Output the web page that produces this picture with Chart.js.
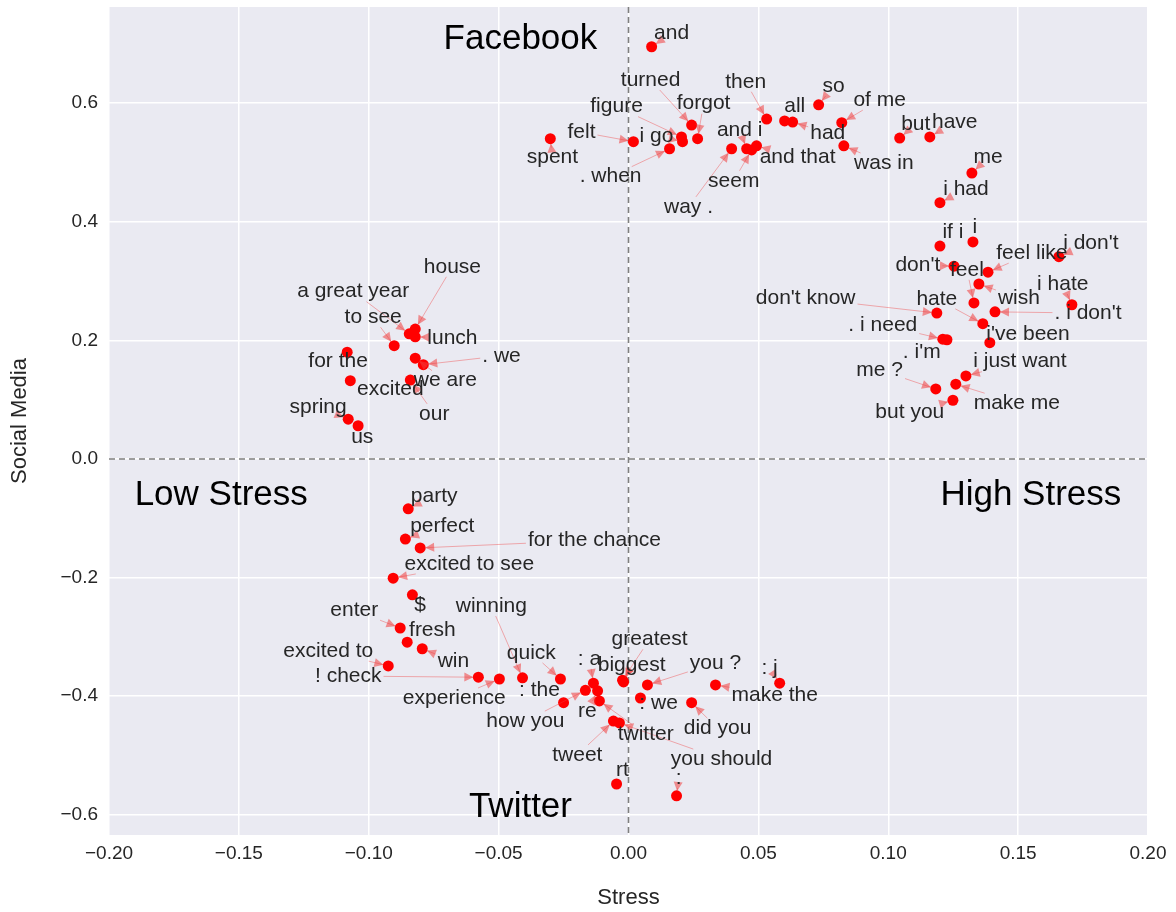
<!DOCTYPE html>
<html lang="en">
<head>
  <meta charset="UTF-8" />
  <title>Stress vs Social Media</title>
  <script src="https://cdn.jsdelivr.net/npm/chart.js"></script>
  <style>
    body { margin: 0; background: #fff; }
    #wrap { width: 1176px; height: 912px; }
  </style>
</head>
<body>
  <div id="wrap"><canvas id="wordChart"></canvas></div>

  <script>
    // phrases and their position (stress, social media)
    const words = [
      // facebook
      "and", "spent", "felt", "figure", "i go", "turned", "forgot", ". when", "way .", "and i", "seem",
      "and that", "then", "all", "had", "so", "of me", "was in", "but", "have", "me", "i had",
      // high stress
      "if i", "i", "i don't", "don't", "feel like", "feel", "wish", "hate", "don't know", "i hate",
      ". i don't", ". i need", ". i'm", "i've been", "i just want", "make me", "me ?", "but you",
      // low stress
      "house", "a great year", "to see", "lunch", "for the", ". we", "we are", "excited", "our", "spring", "us",
      // twitter
      "party", "perfect", "for the chance", "excited to see", "$", "enter", "fresh", "win", "excited to",
      "! check", "experience", "winning", "quick", ": a", ": the", "how you", "re", "twitter", "tweet",
      "you should", "greatest", "biggest", "you ?", ": we", "did you", "make the", ": j", "rt", ":"
    ];
    const stress = [
      0.0089, -0.0301, 0.0019, 0.0204, 0.0208, 0.0243, 0.0266, 0.0158, 0.0397, 0.0455, 0.0474,
      0.0493, 0.0532, 0.0601, 0.0632, 0.0732, 0.0821, 0.0829, 0.1044, 0.1160, 0.1322, 0.1199,
      0.1199, 0.1326, 0.1657, 0.1253, 0.1384, 0.1330, 0.1349, 0.1364, 0.1187, 0.1707,
      0.1411, 0.1210, 0.1226, 0.1391, 0.1299, 0.1260, 0.1183, 0.1249,
      -0.0821, -0.0844, -0.0902, -0.0821, -0.1083, -0.0790, -0.0821, -0.1071, -0.0840, -0.1079, -0.1041,
      -0.0848, -0.0859, -0.0802, -0.0906, -0.0832, -0.0879, -0.0852, -0.0794, -0.0925,
      -0.0578, -0.0497, -0.0408, -0.0262, -0.0135, -0.0250, -0.0166, -0.0119, -0.0112, -0.0058,
      -0.0035, -0.0023, -0.0019, 0.0073, 0.0046, 0.0243, 0.0335, 0.0582, -0.0046, 0.0185
    ];
    const social = [
      0.695, 0.540, 0.535, 0.543, 0.535, 0.563, 0.540, 0.523, 0.523, 0.523, 0.521,
      0.528, 0.573, 0.570, 0.568, 0.597, 0.567, 0.528, 0.541, 0.543, 0.482, 0.432,
      0.359, 0.366, 0.341, 0.325, 0.315, 0.263, 0.295, 0.228, 0.246, 0.260,
      0.248, 0.202, 0.201, 0.196, 0.140, 0.126, 0.118, 0.099,
      0.219, 0.211, 0.191, 0.206, 0.180, 0.159, 0.170, 0.132, 0.133, 0.067, 0.056,
      -0.084, -0.135, -0.150, -0.201, -0.229, -0.285, -0.309, -0.320, -0.349,
      -0.368, -0.371, -0.369, -0.371, -0.378, -0.411, -0.390, -0.391, -0.408, -0.442,
      -0.445, -0.373, -0.376, -0.381, -0.403, -0.411, -0.381, -0.378, -0.548, -0.568
    ];
    // where each phrase's text sits (same units as the axes)
    const labelStress = [
      0.0166, -0.0293, -0.0181, -0.0046, 0.0108, 0.0085, 0.0289, -0.0069, 0.0231, 0.0428, 0.0405,
      0.0651, 0.0451, 0.0640, 0.0767, 0.0790, 0.0967, 0.0983, 0.1106, 0.1256, 0.1384, 0.1299,
      0.1249, 0.1333, 0.1780, 0.1114, 0.1553, 0.1303, 0.1503, 0.1187, 0.0682, 0.1672,
      0.1769, 0.0979, 0.1129, 0.1538, 0.1507, 0.1495, 0.0967, 0.1083,
      -0.0678, -0.1060, -0.0983, -0.0678, -0.1118, -0.0489, -0.0705, -0.0917, -0.0748, -0.1195, -0.1025,
      -0.0748, -0.0717, -0.0131, -0.0613, -0.0802, -0.1056, -0.0755, -0.0674, -0.1156,
      -0.1079, -0.0671, -0.0528, -0.0374, -0.0150, -0.0343, -0.0397, -0.0158, 0.0066, -0.0197,
      0.0358, 0.0081, 0.0012, 0.0335, 0.0116, 0.0343, 0.0563, 0.0543, -0.0023, 0.0193
    ];
    const labelSocial = [
      0.718, 0.508, 0.551, 0.594, 0.545, 0.639, 0.599, 0.476, 0.425, 0.555, 0.469,
      0.508, 0.636, 0.595, 0.550, 0.629, 0.605, 0.499, 0.565, 0.568, 0.508, 0.455,
      0.383, 0.390, 0.364, 0.327, 0.347, 0.319, 0.271, 0.270, 0.271, 0.295,
      0.246, 0.226, 0.180, 0.211, 0.164, 0.094, 0.150, 0.078,
      0.324, 0.282, 0.239, 0.204, 0.164, 0.174, 0.132, 0.118, 0.076, 0.088, 0.037,
      -0.062, -0.113, -0.137, -0.177, -0.246, -0.255, -0.288, -0.341, -0.324,
      -0.366, -0.403, -0.248, -0.327, -0.337, -0.390, -0.442, -0.425, -0.464, -0.499,
      -0.506, -0.304, -0.347, -0.344, -0.411, -0.454, -0.398, -0.352, -0.524, -0.538
    ];

    const quadrantNames = ["Facebook", "Low Stress", "High Stress", "Twitter"];
    const quadrantStress = [-0.0416, -0.1568, 0.1549, -0.0416];
    const quadrantSocial = [0.708, -0.061, -0.061, -0.588];

    const xTicks = [-0.2, -0.15, -0.1, -0.05, 0, 0.05, 0.1, 0.15, 0.2];
    const xTickLabels = ["\u22120.20", "\u22120.15", "\u22120.10", "\u22120.05", "0.00", "0.05", "0.10", "0.15", "0.20"];
    const yTicks = [-0.6, -0.4, -0.2, 0, 0.2, 0.4, 0.6];
    const yTickLabels = ["\u22120.6", "\u22120.4", "\u22120.2", "0.0", "0.2", "0.4", "0.6"];

    const FONT = '"Liberation Sans", Arial, sans-serif';
    const INK = '#262626';
    Chart.defaults.font.family = FONT;

    const plotBackground = {
      id: 'plotBackground',
      beforeDraw(chart) {
        const { ctx, chartArea: a } = chart;
        ctx.save();
        ctx.fillStyle = '#eaeaf2';
        ctx.fillRect(a.left, a.top, a.right - a.left, a.bottom - a.top);
        ctx.restore();
      }
    };

    const zeroLines = {
      id: 'zeroLines',
      beforeDatasetsDraw(chart) {
        const { ctx, chartArea: a, scales: { x, y } } = chart;
        const x0 = x.getPixelForValue(0), y0 = y.getPixelForValue(0);
        ctx.save();
        ctx.strokeStyle = '#7f7f7f';
        ctx.lineWidth = 1.6;
        ctx.setLineDash([6, 4]);
        ctx.beginPath();
        ctx.moveTo(x0, a.top); ctx.lineTo(x0, a.bottom);
        ctx.moveTo(a.left, y0); ctx.lineTo(a.right, y0);
        ctx.stroke();
        ctx.restore();
      }
    };

    // arrows from each text to its point, then the texts
    const wordLabels = {
      id: 'wordLabels',
      afterDatasetsDraw(chart) {
        const { ctx, scales: { x, y } } = chart;
        ctx.save();
        ctx.font = '21px ' + FONT;
        ctx.strokeStyle = 'rgba(240, 60, 60, 0.4)';
        ctx.fillStyle = 'rgba(240, 60, 60, 0.55)';
        ctx.lineWidth = 1;
        words.forEach((w, i) => {
          const px = x.getPixelForValue(stress[i]), py = y.getPixelForValue(social[i]);
          const tx = x.getPixelForValue(labelStress[i]), ty = y.getPixelForValue(labelSocial[i]);
          const hw = ctx.measureText(w).width / 2 + 2, hh = 10;
          const dx = px - tx, dy = py - ty;
          const dist = Math.hypot(dx, dy);
          if (dist < 1) return;
          const sx = dx !== 0 ? hw / Math.abs(dx) : Infinity;
          const sy = dy !== 0 ? hh / Math.abs(dy) : Infinity;
          const t0 = Math.min(sx, sy);
          if (t0 >= 1) return;
          const ux = dx / dist, uy = dy / dist;
          const startX = tx + dx * t0, startY = ty + dy * t0;
          const tipX = px - ux * 5, tipY = py - uy * 5;
          const len = (tipX - startX) * ux + (tipY - startY) * uy;
          if (len <= 1) return;
          ctx.beginPath();
          ctx.moveTo(startX, startY);
          ctx.lineTo(tipX, tipY);
          ctx.stroke();
          const hl = 9, hwid = 4.5;
          const bx = tipX - ux * hl, by = tipY - uy * hl;
          ctx.beginPath();
          ctx.moveTo(tipX, tipY);
          ctx.lineTo(bx - uy * hwid, by + ux * hwid);
          ctx.lineTo(bx + uy * hwid, by - ux * hwid);
          ctx.closePath();
          ctx.fill();
        });
        ctx.fillStyle = INK;
        ctx.textAlign = 'center';
        ctx.textBaseline = 'middle';
        words.forEach((w, i) => {
          ctx.fillText(w, x.getPixelForValue(labelStress[i]), y.getPixelForValue(labelSocial[i]));
        });
        ctx.font = '35px ' + FONT;
        ctx.fillStyle = '#000';
        quadrantNames.forEach((q, i) => {
          ctx.fillText(q, x.getPixelForValue(quadrantStress[i]), y.getPixelForValue(quadrantSocial[i]));
        });
        ctx.restore();
      }
    };

    const ctx = document.getElementById('wordChart').getContext('2d');
    new Chart(ctx, {
      type: 'scatter',
      data: {
        datasets: [{
          data: words.map((w, i) => ({ x: stress[i], y: social[i] })),
          backgroundColor: '#ff0000',
          borderWidth: 0,
          pointRadius: 5.5,
          pointHoverRadius: 5.5
        }]
      },
      options: {
        responsive: true,
        maintainAspectRatio: false,
        animation: false,
        events: [],
        layout: { padding: { top: 7, right: 28, left: 0, bottom: 0 } },
        plugins: { legend: { display: false }, tooltip: { enabled: false } },
        scales: {
          x: {
            type: 'linear',
            min: -0.2,
            max: 0.2,
            afterBuildTicks: s => { s.ticks = xTicks.map(v => ({ value: v })); },
            afterFit: s => { s.height = 77; s.paddingLeft = 0; s.paddingRight = 0; },
            ticks: {
              callback: (v, i) => xTickLabels[i],
              font: { size: 19 },
              color: INK,
              padding: 7,
              maxRotation: 0,
              autoSkip: false
            },
            grid: { color: '#ffffff', lineWidth: 1.5, drawTicks: false },
            border: { display: false },
            title: { display: true, text: 'Stress', font: { size: 22 }, color: INK, padding: { top: 0, bottom: 1 } }
          },
          y: {
            type: 'linear',
            min: -0.634,
            max: 0.762,
            afterBuildTicks: s => { s.ticks = yTicks.map(v => ({ value: v })); },
            afterFit: s => { s.width = 109; s.paddingTop = 0; s.paddingBottom = 0; },
            ticks: {
              callback: (v, i) => yTickLabels[i],
              font: { size: 19 },
              color: INK,
              padding: 11,
              autoSkip: false
            },
            grid: { color: '#ffffff', lineWidth: 1.5, drawTicks: false },
            border: { display: false },
            title: { display: true, text: 'Social Media', font: { size: 22 }, color: INK, padding: { top: 7, bottom: 0 } }
          }
        }
      },
      plugins: [plotBackground, zeroLines, wordLabels]
    });
  </script>
</body>
</html>
